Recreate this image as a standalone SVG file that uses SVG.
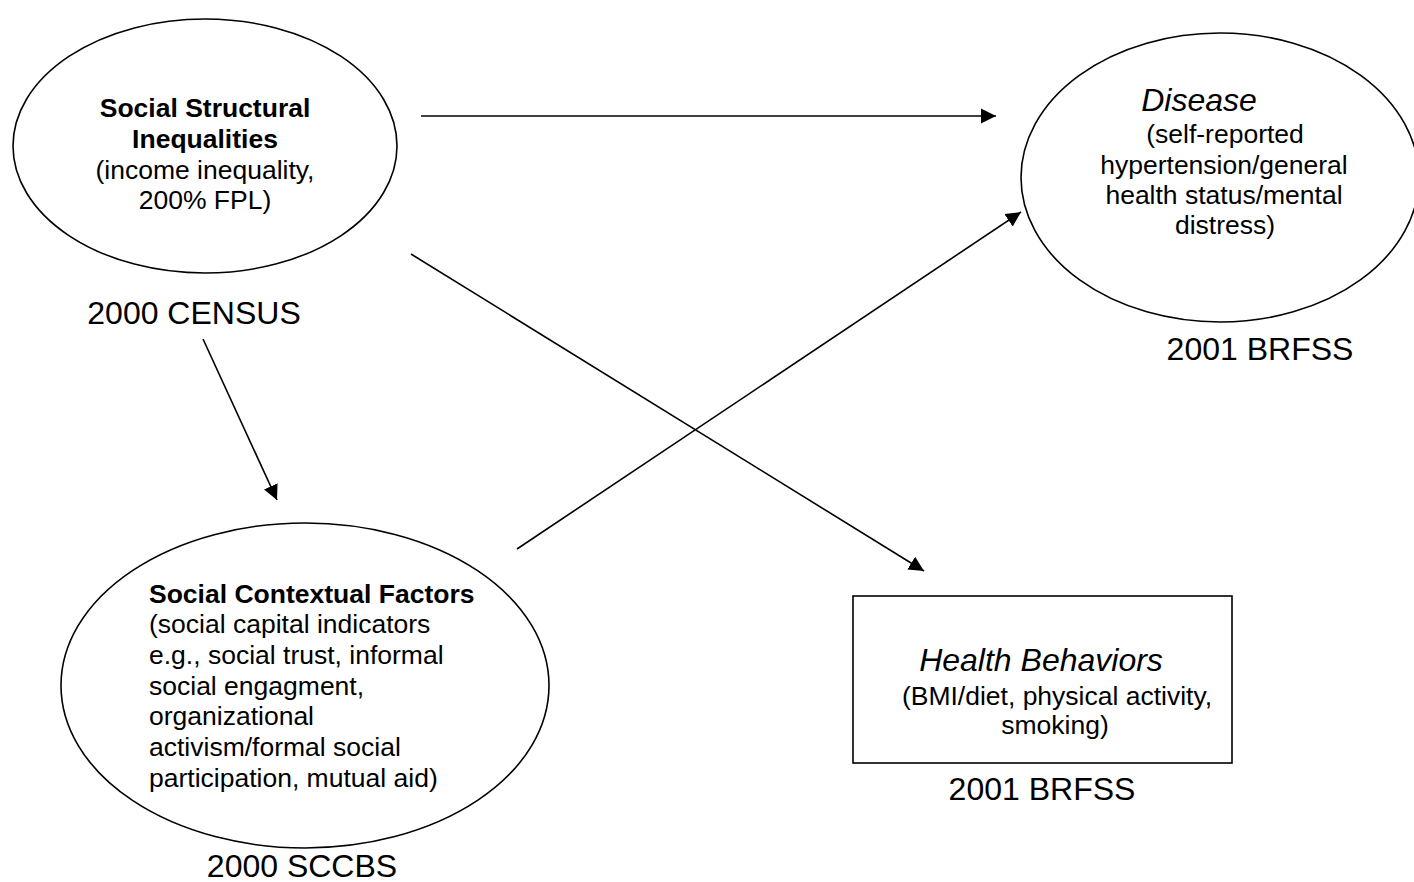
<svg xmlns="http://www.w3.org/2000/svg" width="1414" height="882" viewBox="0 0 1414 882">
<defs>
<marker id="arr" markerUnits="userSpaceOnUse" markerWidth="16" markerHeight="16" viewBox="0 0 16 16" refX="15" refY="8" orient="auto">
<path d="M0,0.5 L15,8 L0,15.5 Z" fill="#000"/>
</marker>
<style>
.shape{fill:#fff;stroke:#000;stroke-width:1.6}
.t{font-family:"Liberation Sans",Arial,sans-serif;font-size:26.5px;fill:#000}
.b{font-weight:bold}
.i{font-style:italic;font-size:32px}
.lbl{font-family:"Liberation Sans",Arial,sans-serif;font-size:32px;fill:#000}
.c{text-anchor:middle}
.con{stroke:#000;stroke-width:1.6;fill:none;marker-end:url(#arr)}
</style>
</defs>
<rect width="1414" height="882" fill="#fff"/>
<g id="connectors">
<line class="con" x1="421" y1="116" x2="996" y2="116"/>
<line class="con" x1="411" y1="254" x2="924" y2="571"/>
<line class="con" x1="517" y1="549" x2="1021" y2="212"/>
<line class="con" x1="203" y1="339" x2="277" y2="500"/>
</g>
<g id="node-structural">
<ellipse class="shape" cx="205" cy="146" rx="192" ry="127"/>
<text class="t b c" x="205" y="117">Social Structural</text>
<text class="t b c" x="205" y="148">Inequalities</text>
<text class="t c" x="205" y="179">(income inequality,</text>
<text class="t c" x="205" y="209">200% FPL)</text>
<text class="lbl c" x="194" y="324">2000 CENSUS</text>
</g>
<g id="node-disease">
<ellipse class="shape" cx="1220" cy="177.5" rx="199" ry="144.5"/>
<text class="t i c" x="1199" y="111">Disease</text>
<text class="t c" x="1225" y="143">(self-reported</text>
<text class="t c" x="1224" y="174">hypertension/general</text>
<text class="t c" x="1224" y="204">health status/mental</text>
<text class="t c" x="1225" y="234">distress)</text>
<text class="lbl c" x="1260" y="360">2001 BRFSS</text>
</g>
<g id="node-contextual">
<ellipse class="shape" cx="305" cy="685.5" rx="244" ry="162.5"/>
<text class="t b" x="149" y="603">Social Contextual Factors</text>
<text class="t" x="149" y="633">(social capital indicators</text>
<text class="t" x="149" y="664">e.g., social trust, informal</text>
<text class="t" x="149" y="695">social engagment,</text>
<text class="t" x="149" y="725">organizational</text>
<text class="t" x="149" y="756">activism/formal social</text>
<text class="t" x="149" y="787">participation, mutual aid)</text>
<text class="lbl c" x="302" y="877">2000 SCCBS</text>
</g>
<g id="node-behaviors">
<rect class="shape" x="853" y="596" width="379" height="167" stroke-width="2"/>
<text class="t i c" x="1041" y="671">Health Behaviors</text>
<text class="t c" x="1057" y="705">(BMI/diet, physical activity,</text>
<text class="t c" x="1055" y="734">smoking)</text>
<text class="lbl c" x="1042" y="800">2001 BRFSS</text>
</g>
</svg>
